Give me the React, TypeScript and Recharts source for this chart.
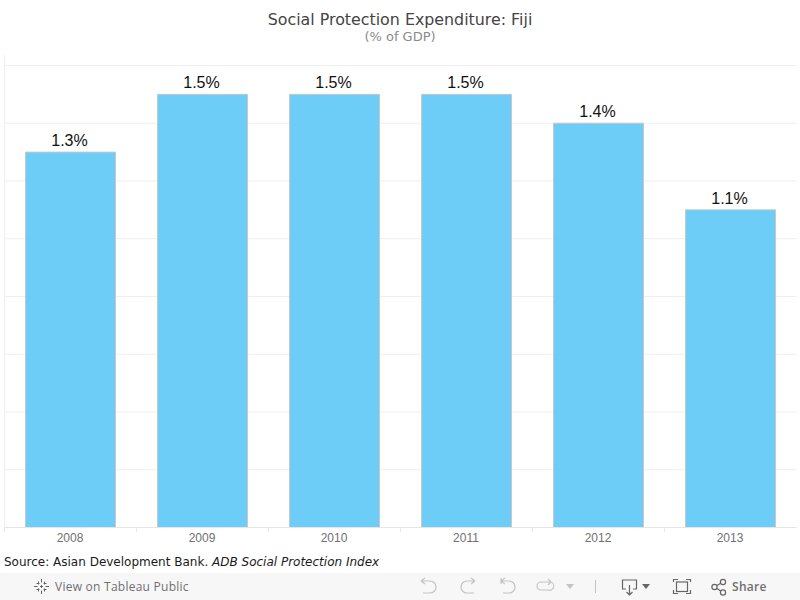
import React from "react";
import { BarChart, Bar, XAxis, YAxis, CartesianGrid, LabelList } from "recharts";

const years = ["2008", "2009", "2010", "2011", "2012", "2013"];
const values = [1.3, 1.5, 1.5, 1.5, 1.4, 1.1];
const gridTicks = [0, 0.2, 0.4, 0.6, 0.8, 1.0, 1.2, 1.4, 1.6];
const data = years.map((year, i) => ({ year, value: values[i] }));

const BAND = 132;

const XTick = (props: any) => {
  const { x, payload } = props;
  return (
    <g>
      <line x1={x - BAND / 2} x2={x - BAND / 2} y1={527} y2={532} stroke="#e6e6e6" />
      <text x={x - 0.5} y={542} textAnchor="middle" fontFamily="'Liberation Sans', Arial" fontSize={12} fill="#707070">
        {payload.value}
      </text>
    </g>
  );
};

const EmptyTick = () => <g />;

const iconStroke = "#c4c4c4";
const darkIcon = "#666666";

const Toolbar = () => (
  <div style={{ position: "absolute", left: 0, top: 573, width: 800, height: 27, background: "#f7f7f7" }}>
    <svg width={800} height={27} style={{ position: "absolute", left: 0, top: 0 }}>
      <g stroke={darkIcon} fill="none" strokeWidth={1}>
        <g transform="translate(41.5,13.5)">
          <path d="M0,-7.5 V-4 M0,4 V7.5 M-7.5,0 H-4 M4,0 H7.5 M-3,-5 V-2 M3,-5 V-2 M-3,2 V5 M3,2 V5 M-5,-3 H-2 M2,-3 H5 M-5,3 H-2 M2,3 H5 M-1.5,0 H1.5 M0,-1.5 V1.5" />
        </g>
      </g>
      <g stroke={iconStroke} fill="none" strokeWidth={1.2}>
        <path d="M421,8 H430 A6,6 0 0 1 430,20 H423 M421,8 L425,5 M421,8 L425,11" />
        <path d="M475,8 H467 A6,6 0 0 0 467,20 H474 M475,8 L471,5 M475,8 L471,11" />
        <path d="M501,5 V11 M501,8 H509 A6,6 0 0 1 509,20 H503 M501,8 L505,5 M501,8 L505,11" />
        <path d="M551,9 H541 A4,4 0 0 0 541,17 H548 A4,4 0 0 0 551,9 M551,9 L548,6 M551,9 L548,12" />
      </g>
      <path d="M566,11 H574 L570,16 Z" fill="#c4c4c4" />
      <line x1={595.5} x2={595.5} y1={7} y2={20} stroke="#c4c4c4" />
      <g stroke={darkIcon} fill="none" strokeWidth={1.2}>
        <path d="M626,16 H622.5 V7 H636.5 V16 H633 M629.5,12 V22 M626.5,19 L629.5,22 L632.5,19" />
        <path d="M673.5,9 V6.5 H678 M686,6.5 H690.5 V9 M673.5,17 V20.5 H678 M686,20.5 H690.5 V17" />
        <rect x={676.5} y={9} width={11} height={9.5} />
        <circle cx={714.5} cy={14} r={2.6} />
        <circle cx={723} cy={9} r={2.6} />
        <circle cx={723} cy={19.5} r={2.6} />
        <path d="M717,12.5 L720.7,10.3 M717,15.5 L720.7,18" />
      </g>
      <path d="M642,11 H650 L646,16 Z" fill={darkIcon} />
    </svg>
    <div style={{ position: "absolute", left: 55, top: 5, fontFamily: "'Open Sans'", fontSize: 12, letterSpacing: 0.25, lineHeight: "17px", color: "#707070", fontWeight: 500 }}>
      View on Tableau Public
    </div>
    <div style={{ position: "absolute", left: 732, top: 5, fontFamily: "'Open Sans'", fontSize: 12, letterSpacing: 0.3, lineHeight: "17px", color: "#707070", fontWeight: 600 }}>
      Share
    </div>
  </div>
);

export default function App() {
  return (
    <div style={{ position: "absolute", left: 0, top: 0, width: 800, height: 600, background: "#ffffff", overflow: "hidden" }}>
      <div style={{ position: "absolute", left: 0, top: 10, width: 800, textAlign: "center", fontFamily: "'DejaVu Sans'", fontSize: 15.85, lineHeight: "19px", color: "#444444" }}>
        Social Protection Expenditure: Fiji
      </div>
      <div style={{ position: "absolute", left: 0, top: 29, width: 800, textAlign: "center", fontFamily: "'DejaVu Sans'", fontSize: 13, lineHeight: "15px", color: "#8a8a8a" }}>
        (% of GDP)
      </div>
      <div style={{ position: "absolute", left: 0, top: 0 }}>
        <BarChart
          width={800}
          height={600}
          data={data}
          barCategoryGap={0}
          margin={{ top: 54.5, right: 3.5, bottom: 42.5, left: 3.5 }}
        >
          <CartesianGrid vertical={false} stroke="#efefef" horizontalValues={gridTicks} />
          <XAxis
            dataKey="year"
            axisLine={{ stroke: "#e6e6e6" }}
            tickLine={false}
            height={30}
            interval={0}
            tick={<XTick />}
          />
          <YAxis
            width={1}
            domain={[0, 1.638]}
            ticks={gridTicks}
            tick={<EmptyTick />}
            tickLine={false}
            axisLine={{ stroke: "#efefef" }}
            allowDataOverflow
          />
          <Bar
            dataKey="value"
            fill="#6dcdf7"
            stroke="#c8c8c8"
            strokeWidth={1}
            barSize={90}
            isAnimationActive={false}
          >
            <LabelList
              dataKey="value"
              position="top"
              offset={5}
              dx={-1}
              dy={-1}
              formatter={(v: number) => `${v.toFixed(1)}%`}
              style={{ fontFamily: "'Liberation Sans', Arial", fontSize: 16, fill: "#111111" }}
            />
          </Bar>
        </BarChart>
      </div>
      <div style={{ position: "absolute", left: 4, top: 554, fontFamily: "'DejaVu Sans'", fontSize: 12, lineHeight: "16px", color: "#1a1a1a" }}>
        Source: Asian Development Bank. <i>ADB Social Protection Index</i>
      </div>
      <Toolbar />
    </div>
  );
}
